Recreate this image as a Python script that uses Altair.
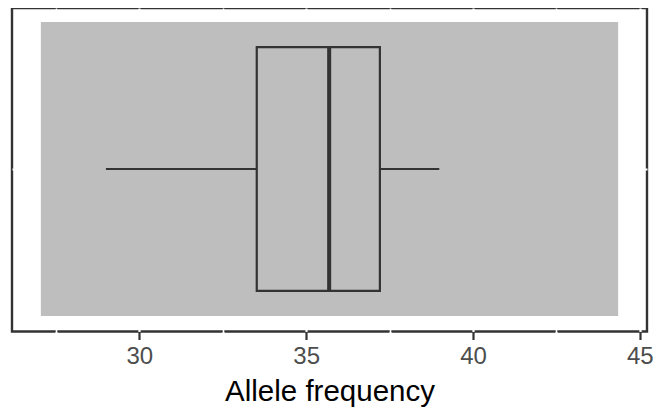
import altair as alt
import pandas as pd

# Summary values (Allele frequency)
rect_start = [27.05]
rect_end = [44.35]
whisker_low = [29.0]
q1 = [33.52]
median = [35.69]
q3 = [37.21]
whisker_high = [38.99]

df = pd.DataFrame({
    "rect_start": rect_start, "rect_end": rect_end,
    "lo": whisker_low, "q1": q1, "med": median, "q3": q3, "hi": whisker_high,
})

# band positions on the (hidden) y scale: one category centred at 1
Y_CENTER = 1.0
BOX_LO, BOX_HI = 0.55, 1.45
RECT_LO, RECT_HI = 0.457, 1.543

xscale = alt.Scale(domain=[26.185, 45.215], nice=False, zero=False)
yscale = alt.Scale(domain=[0.4, 1.5946], nice=False, zero=False)

major = "datum.value % 5 === 0"
xaxis = alt.Axis(
    title="Allele frequency",
    values=[27.5, 30, 32.5, 35, 37.5, 40, 42.5, 45],
    labelExpr=f"{major} ? datum.label : ''",
    grid=True,
    gridColor="white",
    gridWidth={"condition": {"test": major, "value": 2.2}, "value": 1.6},
    domain=False,
    ticks=True,
    tickColor={"condition": {"test": major, "value": "#333333"}, "value": "white"},
    tickSize=8, tickWidth=2.2,
    labelFont="Liberation Sans", labelFontSize=24, labelColor="#4D4D4D",
    labelPadding=5, labelFlush=False,
    titleFont="Liberation Sans", titleFontSize=29.5, titleColor="black",
    titleFontWeight="normal", titlePadding=9,
)
yaxis = alt.Axis(
    title=None, values=[1], labels=False, ticks=False, domain=False,
    grid=True, gridColor="white", gridWidth=2.2,
)

base = alt.Chart(df)

bg = base.mark_rect(color="#BEBEBE").encode(
    x=alt.X("rect_start:Q", scale=xscale, axis=xaxis),
    x2="rect_end:Q",
    y=alt.Y(datum=RECT_LO, type="quantitative", scale=yscale, axis=yaxis),
    y2=alt.datum(RECT_HI),
)

LINE = "#333333"
whisk_l = base.mark_rule(color=LINE, strokeWidth=2.2).encode(
    x="lo:Q", x2="q1:Q", y=alt.datum(Y_CENTER))
whisk_r = base.mark_rule(color=LINE, strokeWidth=2.2).encode(
    x="q3:Q", x2="hi:Q", y=alt.datum(Y_CENTER))
box = base.mark_rect(fill="#BEBEBE", fillOpacity=0, stroke=LINE, strokeWidth=2.2).encode(
    x="q1:Q", x2="q3:Q", y=alt.datum(BOX_LO), y2=alt.datum(BOX_HI))
med = base.mark_rule(color=LINE, strokeWidth=4).encode(
    x="med:Q", y=alt.datum(BOX_LO), y2=alt.datum(BOX_HI))

chart = alt.layer(bg, whisk_l, whisk_r, box, med).properties(
    width=635, height=323.5,
    background="white",
    autosize=alt.AutoSizeParams(type="none"),
    padding={"left": 4, "top": 0, "right": 15, "bottom": 80},
).configure_view(
    stroke=LINE, strokeWidth=2.4, fill="white"
)

chart.save("out.html", embed_options={"renderer": "svg", "actions": False})
